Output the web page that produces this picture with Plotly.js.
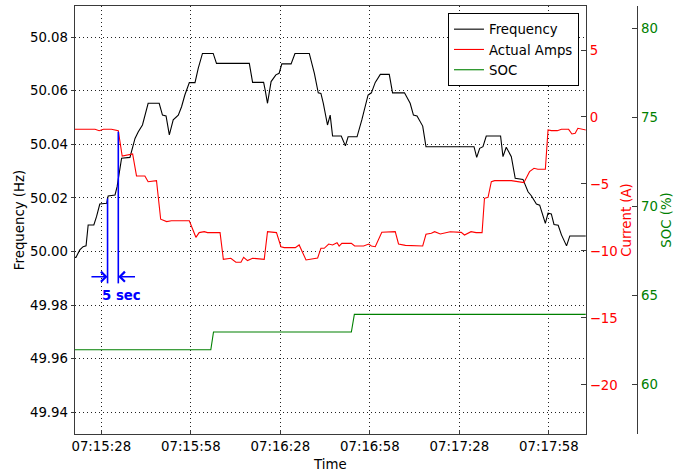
<!DOCTYPE html>
<html><head><meta charset="utf-8">
<script src="https://cdn.plot.ly/plotly-3.0.1.min.js"></script>
<style>html,body{margin:0;padding:0;background:#fff;}#chart{width:689px;height:475px;}</style>
</head><body><div id="chart"></div>
<script>
// time values are seconds after 07:15:19
const baseDay = '2015-01-01';
const baseClock = '07:15:19';
const xTickLabels = ['07:15:28','07:15:58','07:16:28','07:16:58','07:17:28','07:17:58'];
const freqTicks = [49.94, 49.96, 49.98, 50.00, 50.02, 50.04, 50.06, 50.08];
const ampTicks = [-20, -15, -10, -5, 0, 5];
const socTicks = [60, 65, 70, 75, 80];

const freqTime = [0,0.5,1.8,2.9,3.9,4.6,6.5,7.4,8.5,10.8,11.3,13.6,14.3,15.8,18.6,20.3,21.4,22.8,24.7,28.4,29.5,30.7,31.8,33.1,34.8,35.9,37.0,38.5,40.4,41.5,42.9,46.5,47.6,58.6,59.7,63.4,63.9,64.7,65.9,67.5,68.6,69.5,72.6,73.9,78.7,80.4,81.7,82.6,83.4,84.8,85.7,86.5,89.4,90.8,91.7,94.7,96.3,98.4,99.5,100.8,102.5,105.5,106.6,110.6,112.5,113.6,114.8,116.7,117.8,133.9,134.8,135.8,136.9,138.0,142.8,143.6,144.7,146.4,147.7,150.3,152.0,153.1,154.8,155.9,157.8,158.7,159.8,160.7,162.1,163.2,164.9,166.0,171.5];
const freqHz = [49.9978,49.9978,50.0006,50.0018,50.0021,50.0099,50.0099,50.0130,50.0177,50.0180,50.0207,50.0211,50.0242,50.0348,50.0351,50.0422,50.0447,50.0472,50.0553,50.0553,50.0509,50.0506,50.0435,50.0491,50.0509,50.0540,50.0584,50.0630,50.0630,50.0684,50.0739,50.0739,50.0702,50.0702,50.0631,50.0631,50.0603,50.0553,50.0634,50.0659,50.0665,50.0700,50.0700,50.0739,50.0739,50.0665,50.0592,50.0590,50.0553,50.0472,50.0509,50.0431,50.0431,50.0394,50.0428,50.0428,50.0491,50.0584,50.0592,50.0631,50.0661,50.0661,50.0592,50.0592,50.0553,50.0509,50.0506,50.0468,50.0391,50.0391,50.0351,50.0385,50.0391,50.0431,50.0431,50.0354,50.0389,50.0354,50.0273,50.0269,50.0223,50.0208,50.0177,50.0173,50.0105,50.0143,50.0140,50.0101,50.0098,50.0062,50.0021,50.0058,50.0058];

const ampsTime = [0,6.9,8.3,9.7,12.4,14.7,16.0,17.5,19.5,20.8,23.6,24.7,26.4,27.5,28.9,30.9,32.5,38.5,40.7,41.8,43.5,44.6,48.8,49.9,52.4,54.1,55.8,56.7,58.0,59.7,63.6,64.7,67.7,69.2,70.3,74.0,75.3,77.6,81.5,82.6,83.7,85.2,86.5,88.0,88.7,89.6,92.8,93.9,96.9,98.6,99.5,100.8,103.0,107.5,108.6,110.9,116.7,117.8,119.6,120.7,122.6,124.0,125.9,129.6,130.7,132.9,134.6,136.6,137.4,138.6,139.7,140.8,146.4,150.6,152.5,154.0,155.3,157.8,158.7,159.8,161.8,163.2,165.6,166.7,167.8,168.7,170.4,171.5];
const ampsA = [-0.92,-0.92,-1.02,-0.92,-0.92,-1.02,-2.91,-2.84,-2.76,-4.40,-4.40,-4.83,-4.75,-4.75,-7.63,-7.81,-7.74,-7.74,-8.98,-8.63,-8.56,-8.63,-8.63,-10.62,-10.54,-10.84,-10.84,-10.47,-10.72,-10.54,-10.62,-8.56,-8.63,-9.68,-9.75,-9.75,-9.55,-10.67,-10.52,-9.80,-9.80,-9.48,-9.55,-9.38,-9.63,-9.43,-9.43,-9.63,-9.63,-9.48,-9.63,-9.68,-8.60,-8.56,-9.48,-9.58,-9.63,-8.75,-8.68,-8.56,-8.73,-8.68,-8.56,-8.61,-8.81,-8.56,-8.63,-8.63,-6.07,-5.99,-4.83,-4.75,-4.75,-4.90,-4.08,-3.83,-3.90,-3.90,-0.97,-1.02,-1.02,-0.92,-0.92,-1.27,-1.22,-0.84,-0.92,-0.97];

const socTime = [0,45.7,46.6,92.8,93.8,171.5];
const socPct = [61.94,61.94,62.94,62.94,63.93,63.93];

// "5 sec" marker
const markTime = [11.1, 14.7];
const markTop = [50.0198, 50.0447];
const markBottom = 49.9881;
const arrowLevel = 49.9906;
const arrowTail = [5.2, 20.8];
const markLabel = '5 sec';
const markLabelTime = 15.7;
const markLabelLevel = 49.9835;

const BASE_MS = Date.parse(baseDay + 'T' + baseClock + 'Z');
function toDate(s){ return new Date(BASE_MS + Math.round(s*1000)).toISOString().replace('T',' ').replace('Z',''); }
function clockDate(c){ return baseDay + ' ' + c; }

const FONT = 'DejaVu Sans, Verdana, sans-serif';
const FS = 13.3;
const AX = '#3a3a3a';
const GRID = '#222';
const GRIDDASH = '1px,3px';

const traces = [
  {x: freqTime.map(toDate), y: freqHz, name:'Frequency', type:'scatter', mode:'lines', line:{color:'#000', width:1.1}, xaxis:'x', yaxis:'y'},
  {x: ampsTime.map(toDate), y: ampsA, name:'Actual Amps', type:'scatter', mode:'lines', line:{color:'#ff0000', width:1.1}, xaxis:'x', yaxis:'y2'},
  {x: socTime.map(toDate), y: socPct, name:'SOC', type:'scatter', mode:'lines', line:{color:'#008000', width:1.1}, xaxis:'x', yaxis:'y3'}
];

const shapes = markTime.map((t,i)=>({type:'line', xref:'x', yref:'y', x0:toDate(t), x1:toDate(t), y0:markTop[i], y1:markBottom, line:{color:'#0000ff', width:1.6}}));

const annotations = markTime.map((t,i)=>({x:toDate(t), y:arrowLevel, xref:'x', yref:'y', ax:toDate(arrowTail[i]), ay:arrowLevel, axref:'x', ayref:'y', text:'', showarrow:true, arrowhead:4, arrowsize:1.3, arrowwidth:1.5, arrowcolor:'#0000ff', standoff:0, startstandoff:0}));
annotations.push({x:toDate(markLabelTime), y:markLabelLevel, xref:'x', yref:'y', text:markLabel, showarrow:false, font:{family:FONT, size:FS, color:'#0000ff', weight:'bold'}});

const layout = {
  width:689, height:475,
  margin:{l:75, r:0, t:6, b:41, pad:0},
  paper_bgcolor:'#fff', plot_bgcolor:'#fff',
  font:{family:FONT, size:FS, color:'#000'},
  showlegend:true,
  legend:{x:0.8208, xanchor:'right', y:0.9836, yanchor:'top', bordercolor:'#000', borderwidth:1, bgcolor:'#fff', font:{family:FONT, size:FS, color:'#000'}},
  xaxis:{type:'date', domain:[0,0.8318], range:[toDate(0.19), toDate(171.33)], tickvals:xTickLabels.map(clockDate), tickformat:'%H:%M:%S',
    ticks:'inside', ticklen:4, tickcolor:AX, showline:true, linecolor:AX, linewidth:1.3, mirror:true,
    showgrid:true, gridcolor:GRID, griddash:GRIDDASH, gridwidth:1, zeroline:false, automargin:false,
    title:{text:'Time', standoff:6, font:{family:FONT, size:FS, color:'#000'}}},
  yaxis:{range:[49.9319,50.0916], tickvals:freqTicks, tickformat:'.2f', ticks:'outside', ticklen:3, tickcolor:AX,
    showline:true, linecolor:AX, linewidth:1.3, mirror:true, showgrid:true, gridcolor:GRID, griddash:GRIDDASH, gridwidth:1, zeroline:false, automargin:false,
    title:{text:'Frequency (Hz)', standoff:2, font:{family:FONT, size:FS, color:'#000'}}},
  yaxis2:{overlaying:'y', side:'right', anchor:'x', range:[-23.66,8.284], tickvals:ampTicks, ticks:'inside', ticklen:5, tickcolor:AX,
    tickfont:{family:FONT, size:FS, color:'#ff0000'}, showline:true, linecolor:AX, linewidth:1.3, showgrid:false, zeroline:false, automargin:false,
    title:{text:'Current (A)', standoff:5, font:{family:FONT, size:FS, color:'#ff0000'}}},
  yaxis3:{overlaying:'y', side:'right', anchor:'free', position:0.9153, range:[57.21,81.25], tickvals:socTicks, ticks:'inside', ticklen:5, tickcolor:AX,
    tickfont:{family:FONT, size:FS, color:'#008000'}, showline:true, linecolor:AX, linewidth:1.3, showgrid:false, zeroline:false, automargin:false,
    title:{text:'SOC (%)', standoff:4, font:{family:FONT, size:FS, color:'#008000'}}},
  shapes:shapes,
  annotations:annotations
};

Plotly.newPlot('chart', traces, layout, {displayModeBar:false, staticPlot:true});
</script>
</body></html>
